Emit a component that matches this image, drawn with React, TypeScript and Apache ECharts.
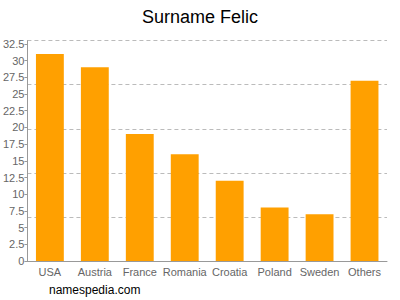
import React, { useEffect, useRef } from "react";
import * as echarts from "echarts";

const categories = ["USA", "Austria", "France", "Romania", "Croatia", "Poland", "Sweden", "Others"];
const values = [31, 29, 19, 16, 12, 8, 7, 27];
const yTickLabels = [0, 2.5, 5, 7.5, 10, 12.5, 15, 17.5, 20, 22.5, 25, 27.5, 30, 32.5];
const yMax = 33;
const gridStep = 6.6;

export default function App() {
  const ref = useRef<HTMLDivElement>(null);
  useEffect(() => {
    if (!ref.current) return;
    const chart = echarts.init(ref.current, null, { renderer: "svg" });
    chart.setOption({
      animation: false,
      title: {
        text: "Surname Felic",
        left: "center",
        top: 3,
        textStyle: { fontFamily: "Liberation Sans", fontSize: 18, fontWeight: "normal", color: "#000" },
      },
      graphic: [
        {
          type: "text",
          left: 49,
          top: 284,
          style: { text: "namespedia.com", font: "12px 'Liberation Sans'", fill: "#000" },
        },
      ],
      grid: { left: 27, right: 13, top: 40.6, bottom: 39 },
      xAxis: {
        type: "category",
        data: categories,
        axisLine: { lineStyle: { color: "#999" } },
        axisTick: { alignWithLabel: true, length: 4, lineStyle: { color: "#999" } },
        axisLabel: {
          color: "#666",
          fontFamily: "Liberation Sans",
          fontSize: 11,
          margin: 5,
          interval: 0,
          hideOverlap: false,
        },
      },
      yAxis: [
        {
          type: "value",
          min: 0,
          max: yMax,
          interval: 2.5,
          axisLine: { show: true, lineStyle: { color: "#999" } },
          axisTick: { show: true, length: 3, lineStyle: { color: "#999" }, customValues: yTickLabels },
          axisLabel: {
            color: "#666",
            fontFamily: "Liberation Sans",
            fontSize: 11,
            margin: 3,
            customValues: yTickLabels,
          },
          splitLine: { show: false },
        },
        {
          type: "value",
          min: 0,
          max: yMax,
          interval: gridStep,
          position: "left",
          axisLine: { show: false },
          axisTick: { show: false },
          axisLabel: { show: false },
          splitLine: { show: true, lineStyle: { color: "#bbb", type: [4, 3], width: 1 } },
        },
      ],
      series: [
        {
          type: "bar",
          data: values,
          yAxisIndex: 0,
          barWidth: "62%",
          itemStyle: { color: "#ffa000" },
        },
      ],
    });
    return () => chart.dispose();
  }, []);
  return <div ref={ref} style={{ width: 400, height: 300, position: "absolute", left: 0, top: 0 }} />;
}
